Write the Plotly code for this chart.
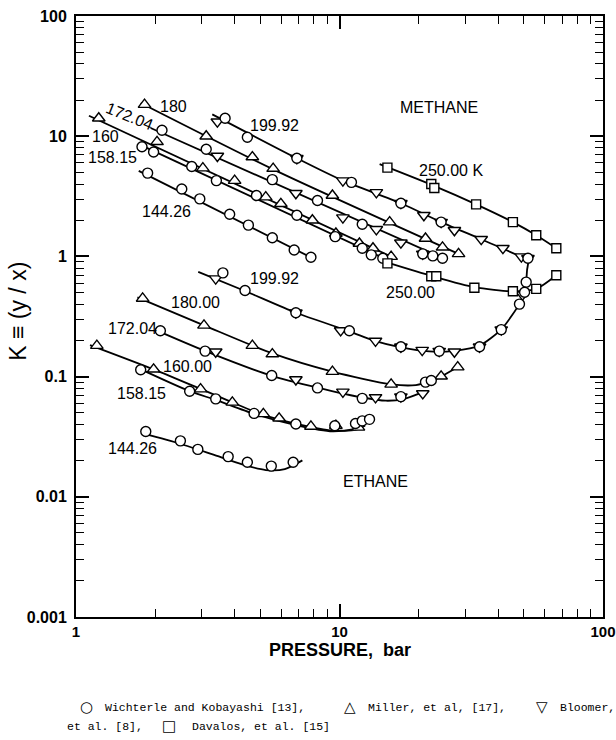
import math
import plotly.graph_objects as go

# ================= METHANE (upper family) =================
# 144.26 K
m144_line_P = [1.73, 7.8]
m144_line_K = [5.15, 0.98]
m144_circ_P = [1.87, 2.52, 2.95, 3.83, 4.51, 5.56, 6.73, 7.79]
m144_circ_K = [4.93, 3.64, 3.01, 2.24, 1.82, 1.43, 1.13, 0.985]

# 158.15 K
m158_line_P = [1.73, 14.8]
m158_line_K = [8.59, 0.96]
m158_circ_P = [1.78, 1.97, 2.75, 3.41, 4.84, 6.89, 9.63, 12.2, 13.2, 14.6]
m158_circ_K = [8.16, 7.38, 5.59, 4.27, 3.21, 2.20, 1.46, 1.17, 1.03, 0.966]

# 160 K
m160_line_P = [1.12, 15.8]
m160_line_K = [14.8, 0.99]
m160_tri_P = [1.22, 2.03, 3.03, 4.00, 5.25, 5.99, 7.89, 9.69, 11.9, 13.4, 15.7]
m160_tri_K = [14.1, 8.98, 5.42, 4.27, 3.11, 2.74, 2.00, 1.55, 1.28, 1.17, 0.996]

# 172.04 K
m172_line_P = [1.92, 24.9]
m172_line_K = [11.7, 0.96]
m172_circ_P = [2.12, 3.12, 5.56, 8.25, 12.2, 20.7, 22.6, 24.6]
m172_circ_K = [11.2, 7.78, 4.35, 2.92, 1.85, 1.05, 1.01, 0.966]
m172_inv_P = [3.44, 6.83, 10.3, 13.8, 17.1, 20.7]
m172_inv_K = [6.84, 3.35, 2.10, 1.68, 1.30, 1.05]

# 180 K
m180_line_P = [1.76, 5.6, 28.3]
m180_line_K = [18.9, 5.3, 1.05]
m180_tri_P = [1.82, 3.12, 4.67, 5.60, 9.40, 15.5, 21.2, 24.6, 28.3]
m180_tri_K = [18.3, 10.0, 6.71, 5.38, 3.21, 1.93, 1.41, 1.19, 1.05]

# 199.92 K (methane branch + ethane branch, joined at the critical point)
t200_line_P = [3.29, 6.89, 10.3, 17.1, 24.3, 34.5, 49.0, 52.0, 51.5, 51.1, 50.4,
               48.2, 41.1, 34.0, 27.3, 21.9, 17.1, 13.7, 10.9, 6.83, 4.38, 2.91]
t200_line_K = [15.2, 6.55, 4.27, 2.77, 1.93, 1.39, 0.996, 0.953, 0.768, 0.619, 0.50,
               0.403, 0.247, 0.181, 0.164, 0.162, 0.175, 0.197, 0.238, 0.340, 0.515, 0.743]
m200_circ_P = [3.68, 4.47, 6.89, 11.1, 17.1, 24.3, 51.9]
m200_circ_K = [14.1, 9.8, 6.55, 4.13, 2.77, 1.93, 0.966]
m200_inv_P = [3.44, 6.89, 10.3, 13.8, 17.1, 20.9, 24.3, 27.3, 34.5, 41.7, 49.0, 51.9]
m200_inv_K = [13.2, 6.55, 4.27, 3.41, 2.77, 2.20, 1.93, 1.65, 1.39, 1.17, 0.996, 0.966]

# 250.00 K methane
m250_line_P = [14.2, 22.6, 33.0, 45.5, 55.8, 66.5]
m250_line_K = [5.85, 3.9, 2.71, 1.93, 1.50, 1.17]
m250_sq_P = [15.2, 22.3, 22.9, 33.0, 45.5, 55.8, 66.5]
m250_sq_K = [5.48, 4.00, 3.71, 2.71, 1.93, 1.50, 1.17]

# ================= ETHANE (lower family) =================
# 199.92 K ethane markers
e200_circ_P = [51.1, 50.4, 48.2, 41.1, 34.0, 23.9, 17.1, 10.9, 6.83, 4.38, 3.61]
e200_circ_K = [0.611, 0.503, 0.401, 0.246, 0.177, 0.163, 0.177, 0.241, 0.340, 0.520, 0.729]
e200_inv_P = [49.5, 41.1, 34.0, 27.3, 23.9, 20.6, 17.1, 13.7, 10.1, 6.83, 3.39]
e200_inv_K = [0.48, 0.246, 0.177, 0.161, 0.163, 0.166, 0.177, 0.198, 0.242, 0.340, 0.653]

# 250.00 K ethane
e250_line_P = [14.9, 22.6, 32.5, 45.5, 55.8, 66.5]
e250_line_K = [0.90, 0.683, 0.555, 0.513, 0.537, 0.697]
e250_sq_P = [15.2, 22.3, 23.3, 32.5, 45.5, 55.8, 66.5]
e250_sq_K = [0.875, 0.683, 0.683, 0.548, 0.513, 0.537, 0.697]

# 180.00 K ethane
e180_line_P = [1.71, 3.06, 5.56, 9.4, 15.7, 19.5, 22.3, 24.3, 28.1]
e180_line_K = [0.456, 0.267, 0.156, 0.110, 0.0862, 0.085, 0.092, 0.100, 0.120]
e180_tri_P = [1.79, 3.06, 4.67, 5.56, 9.40, 15.7, 24.3, 28.1]
e180_tri_K = [0.447, 0.267, 0.181, 0.154, 0.110, 0.0862, 0.1006, 0.120]
e180_circ_P = [21.2, 22.3]
e180_circ_K = [0.090, 0.0929]

# 172.04 K ethane
e172_line_P = [2.0, 3.1, 5.5, 8.25, 12.2, 15.0, 17.5, 21.3]
e172_line_K = [0.245, 0.163, 0.102, 0.081, 0.067, 0.063, 0.065, 0.076]
e172_circ_P = [2.09, 3.09, 5.53, 8.25, 12.2, 17.1]
e172_circ_K = [0.241, 0.163, 0.102, 0.0805, 0.0659, 0.0681]
e172_inv_P = [3.39, 6.83, 10.3, 13.7, 17.1, 20.7]
e172_inv_K = [0.161, 0.0946, 0.0747, 0.0671, 0.0681, 0.0724]

# 160.00 K ethane
e160_line_P = [1.13, 1.97, 2.97, 3.92, 5.14, 7.0, 9.4, 11.5, 12.5]
e160_line_K = [0.183, 0.115, 0.079, 0.061, 0.048, 0.040, 0.0355, 0.036, 0.039]
e160_tri_P = [1.20, 1.97, 2.97, 3.92, 5.14, 5.90, 7.79, 9.69, 11.8]
e160_tri_K = [0.181, 0.115, 0.0786, 0.061, 0.049, 0.045, 0.0385, 0.039, 0.0378]

# 158.15 K ethane
e158_line_P = [1.73, 2.7, 3.39, 4.74, 6.83, 9.4, 11.5, 13.3]
e158_line_K = [0.117, 0.0756, 0.064, 0.049, 0.0395, 0.035, 0.037, 0.044]
e158_circ_P = [1.76, 2.70, 3.39, 4.74, 6.83, 9.60, 11.5, 12.2, 13.0]
e158_circ_K = [0.114, 0.0756, 0.0653, 0.0494, 0.0403, 0.039, 0.0407, 0.0428, 0.0441]

# 144.26 K ethane
e144_line_P = [1.78, 2.5, 3.3, 4.3, 5.25, 6.2, 7.23]
e144_line_K = [0.0338, 0.0275, 0.0225, 0.0185, 0.0167, 0.017, 0.0201]
e144_circ_P = [1.84, 2.49, 2.90, 3.78, 4.47, 5.51, 6.67]
e144_circ_K = [0.0349, 0.0292, 0.0248, 0.0216, 0.0194, 0.0180, 0.0194]

# ================= labels =================
label_text = ["180", "172.04", "160", "158.15", "144.26", "199.92", "METHANE",
              "250.00 K", "250.00", "199.92", "180.00", "172.04", "160.00",
              "158.15", "144.26", "ETHANE"]
label_P = [2.35, 1.60, 1.29, 1.38, 2.21, 5.65, 23.9, 26.6, 18.6, 5.69, 2.85,
           1.64, 2.64, 1.78, 1.64, 13.7]
label_K = [17.6, 14.5, 10.0, 6.59, 2.37, 12.2, 17.3, 5.15, 0.50, 0.657, 0.411,
           0.252, 0.122, 0.072, 0.025, 0.0133]
label_angle = [0, 22, 0, 0, 0, 0, 0, 0, 0, 0, 0, 0, 0, 0, 0, 0]

x_tick_vals = [1, 10, 100]
x_tick_text = ["1", "10", "100"]
y_tick_vals = [0.001, 0.01, 0.1, 1, 10, 100]
y_tick_text = ["0.001", "0.01", "0.1", "1", "10", "100"]

fig = go.Figure()

line_style = dict(color="black", width=1.8, shape="spline", smoothing=0.7)
lines = [
    (m144_line_P, m144_line_K), (m158_line_P, m158_line_K), (m160_line_P, m160_line_K),
    (m172_line_P, m172_line_K), (m180_line_P, m180_line_K), (t200_line_P, t200_line_K),
    (m250_line_P, m250_line_K), (e250_line_P, e250_line_K), (e180_line_P, e180_line_K),
    (e172_line_P, e172_line_K), (e160_line_P, e160_line_K), (e158_line_P, e158_line_K),
    (e144_line_P, e144_line_K),
]
for P, K in lines:
    fig.add_trace(go.Scatter(x=P, y=K, mode="lines", line=line_style,
                             showlegend=False, hoverinfo="skip"))

def marks(P, K, symbol, size):
    fig.add_trace(go.Scatter(
        x=P, y=K, mode="markers", showlegend=False,
        marker=dict(symbol=symbol, size=size, color="white",
                    line=dict(color="black", width=1.4))))

circ_sets = [(m144_circ_P, m144_circ_K), (m158_circ_P, m158_circ_K),
             (m172_circ_P, m172_circ_K), (m200_circ_P, m200_circ_K),
             (e200_circ_P, e200_circ_K), (e180_circ_P, e180_circ_K),
             (e172_circ_P, e172_circ_K), (e158_circ_P, e158_circ_K),
             (e144_circ_P, e144_circ_K)]
tri_sets = [(m160_tri_P, m160_tri_K), (m180_tri_P, m180_tri_K),
            (e180_tri_P, e180_tri_K), (e160_tri_P, e160_tri_K)]
inv_sets = [(m172_inv_P, m172_inv_K), (m200_inv_P, m200_inv_K),
            (e200_inv_P, e200_inv_K), (e172_inv_P, e172_inv_K)]
sq_sets = [(m250_sq_P, m250_sq_K), (e250_sq_P, e250_sq_K)]

for P, K in inv_sets:
    marks(P, K, "triangle-down", 11)
for P, K in tri_sets:
    marks(P, K, "triangle-up", 11)
for P, K in circ_sets:
    marks(P, K, "circle", 10)
for P, K in sq_sets:
    marks(P, K, "square", 9)

SANS = "Liberation Sans, Arial, sans-serif"

annotations = []
for t, p, k, a in zip(label_text, label_P, label_K, label_angle):
    # log axes: annotation positions are given in log10 units
    annotations.append(dict(x=math.log10(p), y=math.log10(k), xref="x", yref="y",
                            text=t, showarrow=False, textangle=a,
                            xanchor="center", yanchor="middle",
                            font=dict(family=SANS, size=16, color="black")))

# axis titles
annotations.append(dict(x=-0.110, y=0.508, xref="paper", yref="paper",
                        text="K ≡ (y / x)", textangle=-90, showarrow=False,
                        xanchor="center", yanchor="middle",
                        font=dict(family=SANS, size=23, color="black")))
annotations.append(dict(x=0.501, y=-0.055, xref="paper", yref="paper",
                        text="<b>PRESSURE,  bar</b>", showarrow=False,
                        xanchor="center", yanchor="middle",
                        font=dict(family=SANS, size=18, color="black")))

# caption (legend)
MONO = "Liberation Mono, Courier New, monospace"
cap_font = dict(family=MONO, size=11.5, color="black")
sym_font = dict(family="DejaVu Sans, sans-serif", size=15, color="black")
def px_x(px):
    return (px - 76) / 527
def px_y(py):
    return (617 - py) / 601
cap_items = [
    ("○", 86, 707, sym_font), ("Wichterle and Kobayashi [13],", 103, 707, cap_font),
    ("△", 350, 707, sym_font), ("Miller, et al, [17],", 366, 707, cap_font),
    ("▽", 542, 707, sym_font), ("Bloomer,", 558, 707, cap_font),
    ("et al. [8],", 65, 726, cap_font),
    ("□", 169, 726, sym_font), ("Davalos, et al. [15]", 190, 726, cap_font),
]
for txt, px, py, f in cap_items:
    xa = "center" if f is sym_font else "left"
    annotations.append(dict(x=px_x(px), y=px_y(py), xref="paper", yref="paper",
                            text=txt, showarrow=False, xanchor=xa, yanchor="middle",
                            font=f))

axis_common = dict(
    type="log", showgrid=False, zeroline=False, showline=True, linecolor="black",
    linewidth=2, mirror="allticks", ticks="inside", ticklen=13, tickwidth=1.6,
    tickcolor="black", tickmode="array", automargin=False, ticklabeloverflow="allow",
)
minor_x = [v * d for d in (1, 10) for v in range(2, 10)]
minor_y = [v * d for d in (0.001, 0.01, 0.1, 1, 10) for v in range(2, 10)]

fig.update_xaxes(**axis_common, range=[0, 2], tickvals=x_tick_vals, ticktext=x_tick_text,
                 tickfont=dict(family=SANS, size=15, color="black", weight="bold"),
                 minor=dict(tickmode="array", tickvals=minor_x, ticks="inside",
                            ticklen=8, tickwidth=1.4, tickcolor="black", showgrid=False))
fig.update_yaxes(**axis_common, range=[-3, 2], tickvals=y_tick_vals, ticktext=y_tick_text,
                 ticklabelstandoff=4,
                 tickfont=dict(family=SANS, size=16, color="black", weight="bold"),
                 minor=dict(tickmode="array", tickvals=minor_y, ticks="inside",
                            ticklen=8, tickwidth=1.4, tickcolor="black", showgrid=False))

fig.update_layout(
    width=616, height=740, autosize=False,
    margin=dict(l=76, r=13, t=16, b=123),
    paper_bgcolor="white", plot_bgcolor="white",
    annotations=annotations, showlegend=False,
)

fig.write_html(
    "out.html",
    config={"displayModeBar": False, "responsive": False},
    post_script=("document.documentElement.style.overflow='hidden';"
                 "document.body.style.overflow='hidden';"
                 "document.body.style.margin='0';"),
)
